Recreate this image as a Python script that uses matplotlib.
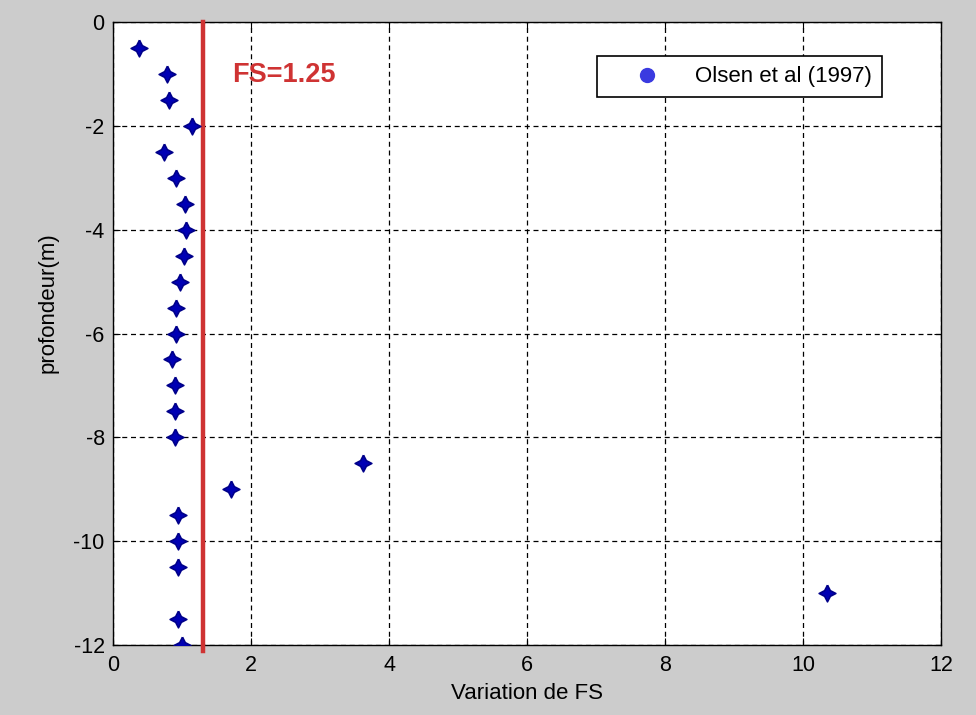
import matplotlib.pyplot as plt
from matplotlib.lines import Line2D

plt.rcParams["font.family"] = ["Liberation Sans", "DejaVu Sans"]
plt.rcParams["axes.unicode_minus"] = False

# depth (m) and factor of safety, Olsen et al (1997)
depth = [-0.5, -1.0, -1.5, -2.0, -2.5, -3.0, -3.5, -4.0, -4.5, -5.0, -5.5, -6.0,
         -6.5, -7.0, -7.5, -8.0, -8.5, -9.0, -9.5, -10.0, -10.5, -11.0, -11.5, -12.0]
fs = [0.38, 0.78, 0.81, 1.15, 0.74, 0.91, 1.04, 1.06, 1.03, 0.97, 0.91, 0.91,
      0.86, 0.90, 0.90, 0.90, 3.62, 1.71, 0.94, 0.94, 0.94, 10.35, 0.94, 1.00]

fs_limit = 1.3          # where the red line sits in the picture
fs_label = "FS=1.25"

# chunky 4-point star, like the matlab markers in the scan
star = [(0, 1), (0.34, 0.34), (1, 0), (0.34, -0.34), (0, -1),
        (-0.34, -0.34), (-1, 0), (-0.34, 0.34), (0, 1)]

fig = plt.figure(figsize=(9.76, 7.15), dpi=100)
fig.patch.set_facecolor("#cccccc")
ax = fig.add_axes([0.1158, 0.098, 0.8484, 0.871])
ax.set_facecolor("white")

ax.plot(fs, depth, linestyle="none", marker=star, markersize=12,
        color="#0000b4", markeredgecolor="#00008a", markeredgewidth=1.2, zorder=4)

ax.plot([fs_limit, fs_limit], [0, -12.12], color="#cf3333", linewidth=3.2,
        clip_on=False, zorder=3)
ax.text(1.72, -1.02, fs_label, color="#cf3333", fontsize=19.5, fontweight="bold",
        ha="left", va="center")

ax.set_xlim(0, 12)
ax.set_ylim(-12, 0)
ax.set_xticks(range(0, 13, 2))
ax.set_yticks(range(-12, 1, 2))
ax.grid(True, color="black", linestyle=(0, (4, 3)), linewidth=0.9)
ax.tick_params(direction="in", length=5, labelsize=15.5, top=True, right=True,
               colors="black")
ax.tick_params(axis="x", pad=7)
ax.tick_params(axis="y", pad=6)
for s in ax.spines.values():
    s.set_linewidth(1.0)

ax.set_xlabel("Variation de FS", fontsize=16)
ax.set_ylabel("profondeur(m)", fontsize=16)
ax.xaxis.set_label_coords(0.5, -0.061)
ax.yaxis.set_label_coords(-0.066, 0.55)

handle = Line2D([], [], linestyle="none", marker="o", markersize=10,
                color="#3a3ae0")
leg = ax.legend([handle], ["Olsen et al (1997)"], loc="upper right",
                bbox_to_anchor=(0.929, 0.945), fontsize=16, fancybox=False,
                framealpha=1, edgecolor="black", handlelength=3.6,
                handletextpad=0.4, borderpad=0.45, borderaxespad=0)
leg.get_frame().set_linewidth(1.2)

fig.savefig("out.png", dpi=100, facecolor=fig.get_facecolor())
